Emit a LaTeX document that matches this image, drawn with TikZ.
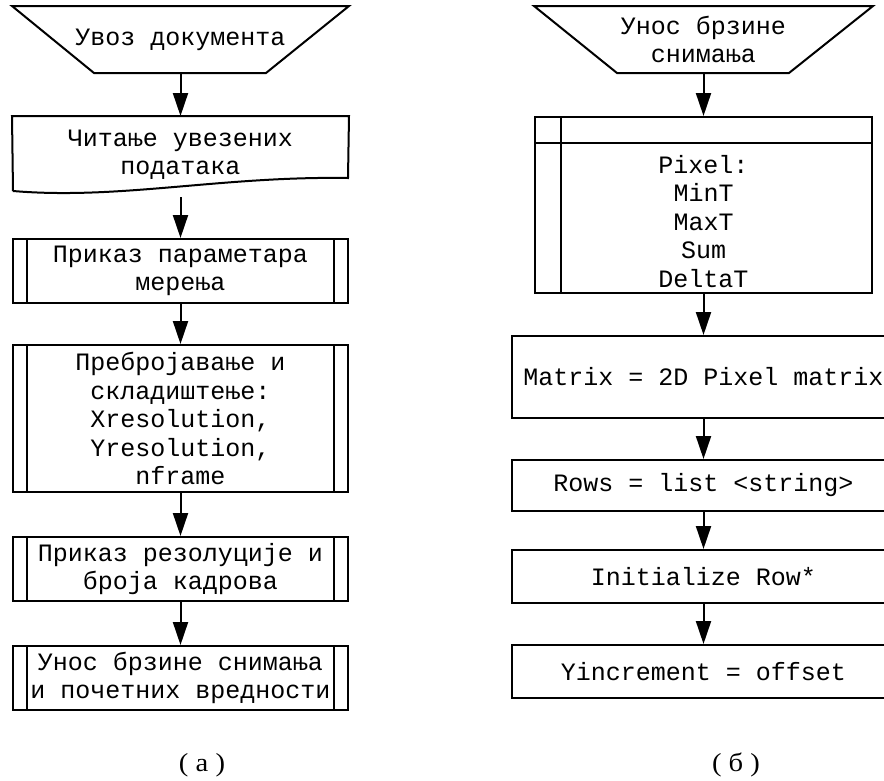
\documentclass[tikz,border=0pt]{standalone}
\usepackage{fontspec}
\usepackage{graphicx}
\setmainfont{Liberation Serif}
\setmonofont{Liberation Mono}
\usetikzlibrary{positioning}
\usetikzlibrary{arrows.meta}

\begin{document}
\begin{tikzpicture}[x=1pt, y=1pt,
  box/.style={rectangle, draw=black, line width=2pt, inner sep=0pt, align=center, font=\ttfamily\fontsize{25}{28.5}\selectfont},
  plain/.style={box, draw=none},
  subproc/.style={box, path picture={\draw [line width=2pt] ([xshift=14pt]path picture bounding box.north west) -- ([xshift=14pt]path picture bounding box.south west) ([xshift=-14pt]path picture bounding box.north east) -- ([xshift=-14pt]path picture bounding box.south east);}},
  storage/.style={box, path picture={\draw [line width=2pt] ([xshift=26pt]path picture bounding box.north west) -- ([xshift=26pt]path picture bounding box.south west) ([yshift=-26pt]path picture bounding box.north west) -- ([yshift=-26pt]path picture bounding box.north east);}},
  flow/.style={line width=2pt, -{Triangle[length=23pt, width=15pt]}},
  caption/.style={font=\rmfamily\fontsize{26}{28}\selectfont}]
\useasboundingbox (0,0) rectangle (884,-780);
\node (in1) [plain, minimum width=335pt, minimum height=65pt] at (180.5, -39.5) {Увоз документа};
\node (doc) [plain, minimum width=335pt, minimum height=76pt] at (180.5, -155.0) {Читање увезених\\података};
\node (sp1) [subproc, minimum width=335pt, minimum height=64pt] at (180.5, -271.0) {Приказ параметара\\мерења};
\node (sp2) [subproc, minimum width=335pt, minimum height=147pt] at (180.5, -418.5) {Пребројавање и\\складиштење:\\Xresolution,\\Yresolution,\\nframe};
\node (sp3) [subproc, minimum width=335pt, minimum height=64pt] at (180.5, -569.0) {Приказ резолуције и\\броја кадрова};
\node (sp4) [subproc, minimum width=335pt, minimum height=64pt] at (180.5, -678.0) {Унос брзине снимања\\и почетних вредности};
\node (capa) [caption] at (202.0, -765.0) {\scalebox{1.1}[1]{( а )}};
\draw [line width=2pt] (in1.north west) -- (in1.north east) -- ([xshift=-83pt]in1.south east) -- ([xshift=82pt]in1.south west) -- cycle;
\draw [line width=2pt] (13,-191) -- (doc.north west) -- (doc.north east) -- (348,-178) .. controls (220,-176) and (120,-200) .. (13,-191);
\draw [flow] (in1.south) -- (doc.north);
\draw [flow] ([yshift=-3pt]doc.south) -- (sp1.north);
\draw [flow] (sp1) -- (sp2);
\draw [flow] (sp2) -- (sp3);
\draw [flow] (sp3) -- (sp4);
\node (in2) [plain, minimum width=337pt, minimum height=65pt] at (703.5, -39.5) {Унос брзине\\снимања};
\node (pix) [storage, minimum width=337pt, minimum height=176pt] at (703.5, -205.0) {\mbox{}\\[22pt]Pixel:\\MinT\\MaxT\\Sum\\DeltaT};
\node (mat) [box, minimum width=383pt, minimum height=82pt] at (703.5, -377.0) {Matrix = 2D Pixel matrix};
\node (rows) [box, minimum width=383pt, minimum height=51pt] at (703.5, -485.5) {Rows = list <string>};
\node (init) [box, minimum width=383pt, minimum height=53pt] at (703.5, -576.5) {Initialize Row*};
\node (yinc) [box, minimum width=383pt, minimum height=53pt] at (703.5, -671.5) {Yincrement = offset};
\node (capb) [caption] at (736.0, -765.0) {\scalebox{1.1}[1]{( б )}};
\draw [line width=2pt] (in2.north west) -- (in2.north east) -- ([xshift=-84pt]in2.south east) -- ([xshift=83pt]in2.south west) -- cycle;
\draw [flow] (in2.south) -- (pix.north);
\draw [flow] (pix) -- (mat);
\draw [flow] (mat) -- (rows);
\draw [flow] (rows) -- (init);
\draw [flow] (init) -- (yinc);
\end{tikzpicture}
\end{document}
